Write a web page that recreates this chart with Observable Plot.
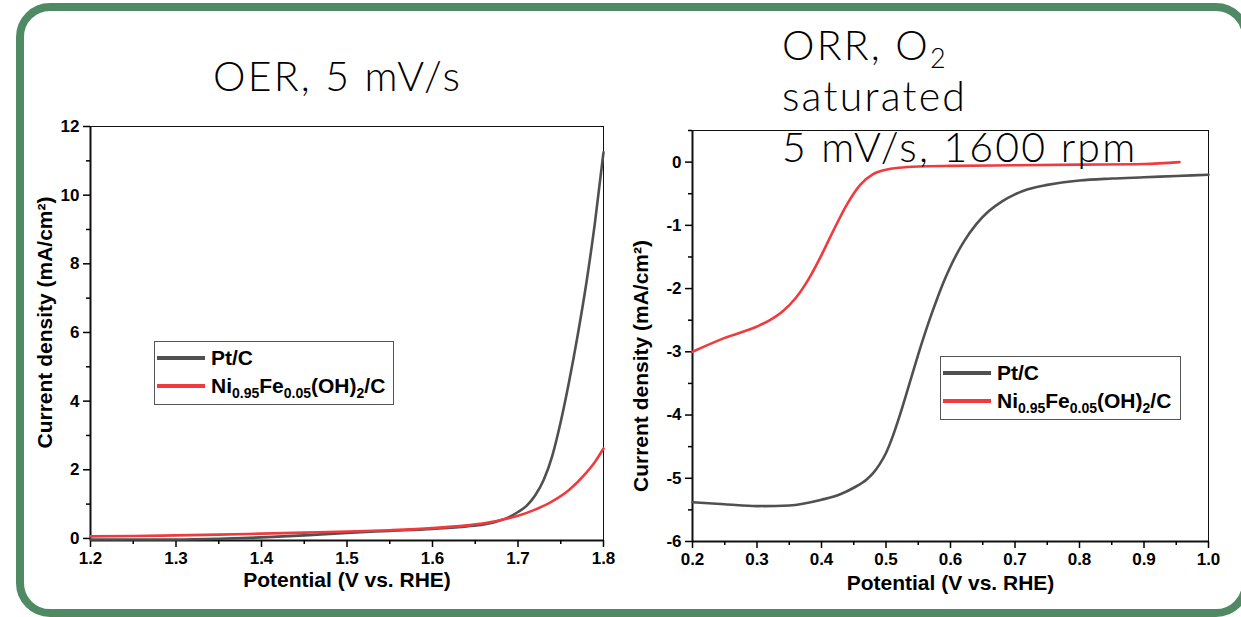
<!DOCTYPE html>
<html><head><meta charset="utf-8">
<script src="https://cdn.jsdelivr.net/npm/d3@7"></script>
<script src="https://cdn.jsdelivr.net/npm/@observablehq/plot@0.6"></script>
<style>
body{margin:0;background:#fff;}
#wrap{position:relative;width:1241px;height:617px;overflow:hidden;background:#fff;font-family:"Liberation Sans",Arial,sans-serif;}
#border{position:absolute;left:16px;top:3px;width:1218px;height:598px;border:8px solid #4f8a64;border-radius:34px;}
.panel{position:absolute;top:0;}
.panel svg text{font-weight:bold !important;font-family:"Liberation Sans",Arial,sans-serif !important;}
.panel svg g[aria-label$="tick label"], .panel svg g[aria-label$="tick label"] text{font-size:17px !important;}
.title{position:absolute;font-family:"Lato","Open Sans",sans-serif;font-weight:300;font-size:41px;letter-spacing:2.2px;color:#000;white-space:nowrap;line-height:51px;}
.title sub{font-size:27px;vertical-align:-8px;line-height:0;letter-spacing:0;}
.legend{position:absolute;background:#fff;border:1.5px solid #555;font-weight:bold;font-size:21px;color:#000;}
.legend .row{display:flex;align-items:center;height:28px;white-space:nowrap;}
.legend .sw{width:48px;height:4px;margin:0 6px 0 2px;}
.legend sub{font-size:14px;vertical-align:-5px;line-height:0;}
</style></head>
<body>
<div id="wrap">
  <div id="border"></div>
  <div id="left" class="panel" style="left:0px"></div>
  <div id="right" class="panel" style="left:620px"></div>
  <div class="title" style="left:213px;top:50px;">OER, 5 mV/s</div>
  <div class="title" style="left:782px;top:19px;">ORR, O<sub>2</sub><br>saturated<br>5 mV/s, 1600 rpm</div>
  <div id="legL" class="legend" style="left:154px;top:341px;width:238px;height:60px;padding-top:2px;"></div>
  <div id="legR" class="legend" style="left:940px;top:356px;width:239px;height:60px;padding-top:2px;"></div>
</div>
<script>
// ---------- data ----------
const seriesNames = ["Pt/C", "Ni<sub>0.95</sub>Fe<sub>0.05</sub>(OH)<sub>2</sub>/C"];
const seriesColors = ["#505050", "#ef3b3f"];

// OER (left panel)
const oerPtX   = [1.20,1.25,1.30,1.35,1.40,1.45,1.50,1.55,1.60,1.64,1.66,1.68,1.69,1.70,1.71,1.72,1.73,1.74,1.75,1.76,1.77,1.78,1.79,1.80];
const oerPtY   = [-0.03,-0.03,-0.03,-0.01,0.03,0.09,0.16,0.22,0.28,0.35,0.41,0.53,0.63,0.77,0.95,1.25,1.7,2.4,3.4,4.6,5.95,7.45,9.2,11.25];
const oerNiX   = [1.20,1.25,1.30,1.35,1.40,1.45,1.50,1.55,1.60,1.64,1.66,1.68,1.70,1.72,1.74,1.76,1.78,1.79,1.80];
const oerNiY   = [0.06,0.07,0.09,0.11,0.14,0.17,0.20,0.24,0.30,0.38,0.44,0.54,0.66,0.84,1.08,1.42,1.92,2.23,2.62];

// ORR (right panel)
const orrPtX   = [0.20,0.25,0.30,0.35,0.40,0.43,0.45,0.47,0.48,0.49,0.50,0.51,0.52,0.53,0.54,0.55,0.56,0.57,0.58,0.59,0.60,0.62,0.64,0.66,0.68,0.70,0.72,0.75,0.80,0.85,0.90,0.95,1.00];
const orrPtY   = [-5.38,-5.41,-5.44,-5.43,-5.34,-5.25,-5.15,-5.02,-4.92,-4.78,-4.6,-4.35,-4.05,-3.72,-3.38,-3.04,-2.72,-2.42,-2.14,-1.88,-1.65,-1.27,-0.98,-0.77,-0.62,-0.51,-0.43,-0.36,-0.29,-0.26,-0.24,-0.22,-0.20];
const orrNiX   = [0.20,0.25,0.30,0.32,0.34,0.36,0.38,0.40,0.42,0.44,0.46,0.48,0.50,0.52,0.55,0.60,0.70,0.80,0.90,0.955];
const orrNiY   = [-3.0,-2.78,-2.6,-2.5,-2.36,-2.15,-1.85,-1.47,-1.05,-0.66,-0.36,-0.19,-0.12,-0.09,-0.07,-0.06,-0.05,-0.04,-0.03,0.0];

// axes
const oerXTicks = [1.2,1.3,1.4,1.5,1.6,1.7,1.8];
const oerXMinor = [1.25,1.35,1.45,1.55,1.65,1.75];
const oerYTicks = [0,2,4,6,8,10,12];
const oerYMinor = [1,3,5,7,9,11];
const orrXTicks = [0.2,0.3,0.4,0.5,0.6,0.7,0.8,0.9,1.0];
const orrXMinor = [0.25,0.35,0.45,0.55,0.65,0.75,0.85,0.95];
const orrYTicks = [-6,-5,-4,-3,-2,-1,0];
const orrYMinor = [-5.5,-4.5,-3.5,-2.5,-1.5,-0.5,0.5];
const xLabel = "Potential (V vs. RHE)";
const yLabel = "Current density (mA/cm²)";

// ---------- drawing ----------
const toRows = (xs, ys) => xs.map((x, i) => ({x, y: ys[i]}));

function panel(o) {
  return Plot.plot({
    width: o.width, height: 617,
    marginLeft: o.ml, marginRight: o.mr, marginTop: o.mt, marginBottom: o.mb,
    style: {fontFamily: '"Liberation Sans", Arial, sans-serif', fontWeight: "bold", fontSize: "17px", color: "#000", background: "transparent", overflow: "visible"},
    x: {domain: o.xDomain},
    y: {domain: o.yDomain},
    marks: [
      Plot.frame({stroke: "#111", strokeWidth: 1}),
      Plot.ruleX([o.xDomain[0]], {stroke: "#111", strokeWidth: 2}),
      Plot.ruleY([o.yDomain[0]], {stroke: "#111", strokeWidth: 2}),
      Plot.axisX(o.xTicks, {tickSize: 7, tickPadding: 4, tickFormat: d => d.toFixed(1), label: null, strokeWidth: 1.5, fontWeight: "bold", fontSize: 17, fill: "#000"}),
      Plot.axisX(o.xMinor, {tickSize: 4, tickFormat: () => "", label: null, strokeWidth: 1.5}),
      Plot.axisY(o.yTicks, {tickSize: 7, tickPadding: 4, tickFormat: d => String(d), label: null, strokeWidth: 1.5, fontWeight: "bold", fontSize: 17, fill: "#000"}),
      Plot.axisY(o.yMinor, {tickSize: 4, tickFormat: () => "", label: null, strokeWidth: 1.5}),
      ...o.series.map((s, i) => Plot.line(s, {x: "x", y: "y", stroke: seriesColors[i], strokeWidth: 2.6, curve: "monotone-x"})),
      Plot.text([xLabel], {frameAnchor: "bottom", dy: o.xlDy, fontSize: 21, fontWeight: "bold", fill: "#000"}),
      Plot.text([yLabel], {frameAnchor: "left", dx: o.ylDx, dy: o.ylDy, rotate: -90, textAnchor: "middle", fontSize: 21, fontWeight: "bold", fill: "#000"})
    ]
  });
}

document.getElementById("left").append(panel({
  width: 620, ml: 90, mr: 17, mt: 126, mb: 77,
  xDomain: [1.2, 1.8], yDomain: [-0.06, 12],
  xTicks: oerXTicks, xMinor: oerXMinor, yTicks: oerYTicks, yMinor: oerYMinor,
  series: [toRows(oerPtX, oerPtY), toRows(oerNiX, oerNiY)],
  xlDy: 46, ylDx: -45, ylDy: -11
}));

document.getElementById("right").append(panel({
  width: 621, ml: 72, mr: 33, mt: 130, mb: 76,
  xDomain: [0.2, 1.0], yDomain: [-6, 0.5],
  xTicks: orrXTicks, xMinor: orrXMinor, yTicks: orrYTicks, yMinor: orrYMinor,
  series: [toRows(orrPtX, orrPtY), toRows(orrNiX, orrNiY)],
  xlDy: 48, ylDx: -51, ylDy: 30
}));

function legend(id) {
  const el = document.getElementById(id);
  seriesNames.forEach((n, i) => {
    const row = document.createElement("div");
    row.className = "row";
    row.innerHTML = `<div class="sw" style="background:${seriesColors[i]}"></div><span>${n}</span>`;
    el.append(row);
  });
}
legend("legL");
legend("legR");
</script>
</body></html>
